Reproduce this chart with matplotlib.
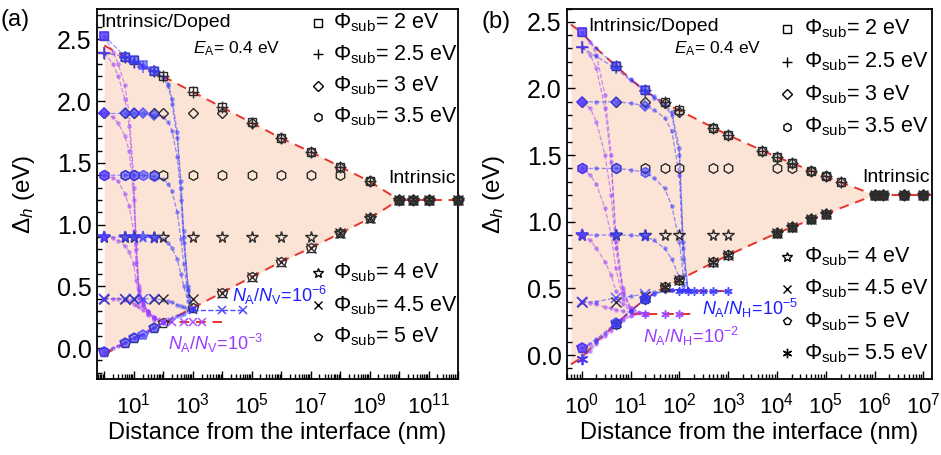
import numpy as np
import matplotlib
matplotlib.use('Agg')
import matplotlib.pyplot as plt
from matplotlib.colors import to_rgba
from matplotlib.ticker import LogLocator, FuncFormatter, MultipleLocator, NullFormatter

plt.rcParams['font.family'] = ['Liberation Sans', 'DejaVu Sans']
plt.rcParams['mathtext.fontset'] = 'custom'
plt.rcParams['mathtext.rm'] = 'Liberation Sans'
plt.rcParams['mathtext.it'] = 'Liberation Sans:italic'
plt.rcParams['mathtext.bf'] = 'Liberation Sans:bold'

nan = np.nan

# substrate work functions and their markers (rows of every table below follow this order)
phi_vals = ['2', '2.5', '3', '3.5', '4', '4.5', '5', '5.5']
mk = ['s', '+', 'D', 'h', '*', 'x', 'p', (6, 2, 0)]
msz = [6, 8, 5.5, 7, 8.5, 7, 7, 8]

RED = '#e8322c'
BLUE = '#3b3bff'
PURP = '#a040ff'
FILL = '#fbe4d5'

# ---------------- panel (a) ----------------
bx_a = [1, 1e1, 1e2, 1e3, 1e4, 1e5, 1e6, 1e7, 1e8, 1e9, 1e10]
upper_a = [2.45, 2.325, 2.2, 2.075, 1.95, 1.825, 1.70, 1.59, 1.47, 1.35, 1.2]
lower_a = [-0.05, 0.075, 0.2, 0.325, 0.45, 0.575, 0.70, 0.81, 0.93, 1.05, 1.2]
tail_a = [1e10, 1e12]

grid_a = [1, 5, 10, 50, 100, 1e3, 1e4, 1e5, 1e6, 1e7, 1e8, 1e9, 1e10, 3e10, 1e11, 1e12]
undoped_a = [
    [2.53, 2.36, 2.33, 2.24, 2.20, 2.08, 1.95, 1.83, 1.70, 1.59, 1.47, 1.35, 1.2, 1.2, 1.2, 1.2],
    [2.39, 2.36, 2.32, 2.24, 2.20, 2.07, 1.95, 1.82, 1.70, 1.59, 1.47, 1.35, 1.2, 1.2, 1.2, 1.2],
    [1.90, 1.90, 1.90, 1.90, 1.90, 1.90, 1.90, 1.82, 1.70, 1.59, 1.47, 1.35, 1.2, 1.2, 1.2, 1.2],
    [1.40, 1.40, 1.40, 1.40, 1.40, 1.40, 1.40, 1.40, 1.40, 1.40, 1.40, 1.35, 1.2, 1.2, 1.2, 1.2],
    [0.90, 0.90, 0.90, 0.90, 0.90, 0.90, 0.90, 0.90, 0.90, 0.90, 0.93, 1.05, 1.2, 1.2, 1.2, 1.2],
    [0.40, 0.40, 0.40, 0.40, 0.40, 0.40, 0.45, 0.575, 0.70, 0.81, 0.93, 1.05, 1.2, 1.2, 1.2, 1.2],
    [-0.03, 0.04, 0.08, 0.16, 0.20, 0.325, 0.45, 0.575, 0.70, 0.81, 0.93, 1.05, 1.2, 1.2, 1.2, 1.2],
]

# N_A/N_V = 1e-3 (purple)
pur_x_a = [1, 2, 3, 5, 7, 10, 12, 15, 20, 30, 50, 100]
pur_a = [
    [2.53, 2.40, 2.30, 2.13, 1.90, 1.40, 0.90, 0.50, 0.38, 0.30, 0.25, 0.21],
    [2.39, 2.30, 2.20, 2.02, 1.80, 1.30, 0.85, 0.48, 0.37, 0.30, 0.25, 0.21],
    [1.90, 1.87, 1.82, 1.72, 1.60, 1.20, 0.80, 0.46, 0.36, 0.29, 0.24, 0.21],
    [1.40, 1.38, 1.35, 1.25, 1.15, 0.95, 0.70, 0.43, 0.35, 0.29, 0.24, 0.21],
    [0.90, 0.89, 0.87, 0.83, 0.78, 0.68, 0.55, 0.40, 0.34, 0.28, 0.24, 0.21],
    [0.40, 0.40, 0.40, 0.39, 0.38, 0.36, 0.35, 0.33, 0.31, 0.27, 0.23, 0.21],
    [-0.03, 0.00, 0.02, 0.05, 0.07, 0.08, 0.09, 0.10, 0.11, 0.14, 0.17, 0.21],
]
# N_A/N_V = 1e-6 (blue)
blue_x_a = [1, 5, 10, 20, 50, 100, 150, 200, 300, 400, 500, 700, 1000]
blue_a = [
    [2.53, 2.36, 2.33, 2.29, 2.24, 2.20, 2.14, 2.02, 1.75, 1.35, 0.95, 0.50, 0.32],
    [2.39, 2.36, 2.32, 2.28, 2.24, 2.19, 2.12, 1.98, 1.70, 1.30, 0.90, 0.48, 0.32],
    [1.90, 1.90, 1.90, 1.90, 1.89, 1.87, 1.83, 1.76, 1.55, 1.20, 0.85, 0.46, 0.32],
    [1.40, 1.40, 1.40, 1.40, 1.39, 1.37, 1.33, 1.27, 1.10, 0.88, 0.68, 0.42, 0.32],
    [0.90, 0.90, 0.90, 0.90, 0.89, 0.88, 0.85, 0.81, 0.72, 0.60, 0.50, 0.38, 0.32],
    [0.40, 0.40, 0.40, 0.40, 0.40, 0.39, 0.38, 0.37, 0.35, 0.34, 0.33, 0.32, 0.32],
    [-0.03, 0.04, 0.08, 0.11, 0.16, 0.20, 0.22, 0.24, 0.26, 0.27, 0.28, 0.30, 0.32],
]
big_blue_a = [0, 1, 2, 3, 4]
pur_plat_x_a = [100, 200, 500, 1000, 2000]
pur_plat_a = [0.21, 0.21, 0.21, 0.21, 0.21]
blue_plat_x_a = [1000, 1e4, 5e4]
blue_plat_a = [0.31, 0.31, 0.31]
red_plat_a = [([100, 1e4], [0.21, 0.21])]

# ---------------- panel (b) ----------------
bx_b = [0.6, 1, 2, 5, 10, 20, 50, 100, 1e3, 1e4, 1e5, 1e6]
upper_b = [2.48, 2.42, 2.30, 2.17, 2.07, 1.98, 1.89, 1.835, 1.65, 1.485, 1.34, 1.2]
lower_b = [-0.07, -0.02, 0.10, 0.23, 0.33, 0.42, 0.51, 0.565, 0.75, 0.915, 1.06, 1.2]
tail_b = [1e6, 1.5e7]

grid_b = [1, 5, 20, 50, 100, 500, 1e3, 5e3, 1e4, 2e4, 5e4, 1e5, 2e5, 1e6, 1.5e6, 4e6, 1e7]
undoped_b = [
    [2.42, 2.17, 1.99, 1.90, 1.84, 1.70, 1.65, 1.53, 1.485, 1.44, 1.38, 1.34, 1.30, 1.2, 1.2, 1.2, 1.2],
    [2.31, 2.17, 1.99, 1.90, 1.84, 1.70, 1.65, 1.53, 1.485, 1.44, 1.38, 1.34, 1.30, 1.2, 1.2, 1.2, 1.2],
    [1.90, 1.90, 1.90, 1.89, 1.82, 1.70, 1.65, 1.53, 1.485, 1.44, 1.38, 1.34, 1.30, 1.2, 1.2, 1.2, 1.2],
    [1.40, 1.40, 1.40, 1.40, 1.40, 1.40, 1.40, nan, 1.40, 1.40, 1.38, 1.34, nan, 1.2, 1.2, 1.2, 1.2],
    [0.90, 0.90, 0.90, 0.90, 0.90, 0.90, 0.90, nan, 0.915, 0.96, 1.02, 1.06, nan, 1.2, 1.2, 1.2, 1.2],
    [0.40, 0.40, 0.44, 0.51, 0.565, 0.70, 0.75, nan, 0.915, 0.96, 1.02, 1.06, nan, 1.2, 1.2, 1.2, 1.2],
    [0.05, 0.23, 0.42, 0.51, 0.565, 0.70, 0.75, nan, 0.915, 0.96, 1.02, 1.06, nan, 1.2, 1.2, 1.2, 1.2],
    [-0.03, 0.23, 0.42, 0.51, 0.565, 0.70, 0.75, nan, 0.915, 0.96, 1.02, 1.06, nan, 1.2, 1.2, 1.2, 1.2],
]

# N_A/N_H = 1e-2 (purple)
pur_x_b = [1, 1.5, 2, 3, 4, 5, 7, 10, 20]
pur_b = [
    [2.42, 2.35, 2.25, 1.95, 1.50, 0.90, 0.50, 0.35, 0.31],
    [2.31, 2.25, 2.15, 1.85, 1.45, 0.85, 0.48, 0.35, 0.31],
    [1.90, 1.85, 1.75, 1.50, 1.20, 0.80, 0.46, 0.34, 0.31],
    [1.40, 1.35, 1.28, 1.10, 0.90, 0.65, 0.42, 0.33, 0.31],
    [0.90, 0.86, 0.80, 0.70, 0.60, 0.48, 0.38, 0.33, 0.31],
    [0.40, 0.39, 0.38, 0.36, 0.35, 0.34, 0.33, 0.32, 0.31],
    [0.05, 0.08, 0.11, 0.16, 0.20, 0.23, 0.27, 0.30, 0.31],
    [-0.03, 0.03, 0.08, 0.14, 0.18, 0.22, 0.26, 0.29, 0.31],
]
# N_A/N_H = 1e-5 (blue)
blue_x_b = [1, 2, 5, 10, 20, 30, 50, 70, 100, 120, 150]
blue_b = [
    [2.42, 2.30, 2.17, 2.07, 1.99, 1.94, 1.88, 1.82, 1.55, 0.85, 0.49],
    [2.31, 2.24, 2.15, 2.06, 1.98, 1.93, 1.87, 1.80, 1.50, 0.80, 0.49],
    [1.90, 1.90, 1.90, 1.89, 1.87, 1.84, 1.78, 1.68, 1.35, 0.72, 0.49],
    [1.40, 1.40, 1.40, 1.39, 1.37, 1.33, 1.25, 1.12, 0.85, 0.60, 0.49],
    [0.90, 0.90, 0.90, 0.90, 0.89, 0.86, 0.80, 0.72, 0.58, 0.52, 0.49],
    [0.40, 0.40, 0.43, 0.44, 0.46, 0.47, 0.48, 0.49, 0.49, 0.49, 0.49],
    [0.05, 0.12, 0.24, 0.33, 0.42, 0.46, 0.48, 0.49, 0.49, 0.49, 0.49],
    [-0.03, 0.10, 0.23, 0.33, 0.42, 0.46, 0.48, 0.49, 0.49, 0.49, 0.49],
]
big_blue_b = [0, 2, 4]
pur_plat_x_b = [20, 50, 100]
pur_plat_b = [0.31, 0.31, 0.31]
blue_plat_x_b = [100, 150, 200, 300, 500, 1000]
blue_plat_b = [0.48, 0.48, 0.48, 0.48, 0.48, 0.48]
red_plat_b = [([10, 180], [0.31, 0.31]), ([50, 1000], [0.48, 0.48])]


def draw_panel(ax, bx, up, lo, tail, grid, undoped, pur_x, pur, blue_x, blue, big_blue,
               ppx, ppy, bpx, bpy, red_plat, plat_mk):
    ax.fill_between(bx, lo, up, color=FILL, lw=0, zorder=0)
    dash = (0, (5, 3.5))
    ax.plot(bx, up, color=RED, ls=dash, lw=1.4, zorder=2)
    ax.plot(bx, lo, color=RED, ls=dash, lw=1.4, zorder=2)
    ax.plot(tail, [1.2, 1.2], color=RED, ls=dash, lw=1.4, zorder=2)
    for rx, ry in red_plat:
        ax.plot(rx, ry, color=RED, ls=dash, lw=1.4, zorder=2)

    n = len(undoped)
    for i in range(n):
        for xs, ys, col, bigs in ((pur_x, pur[i], PURP, [0]), (blue_x, blue[i], BLUE, big_blue)):
            ax.plot(xs, ys, ls='--', lw=0.9, color=col, alpha=0.55, marker='o', ms=3.2,
                    mec='none', mfc=col, zorder=3)
            bx_big = [xs[j] for j in bigs]
            by_big = [ys[j] for j in bigs]
            ax.plot(bx_big, by_big, ls='none', marker=mk[i], ms=msz[i],
                    mfc=to_rgba(col, 0.5), mec=to_rgba(col, 0.75), mew=1.1, zorder=5)
        ax.plot(grid, undoped[i], ls='none', marker=mk[i], ms=msz[i], mfc='none',
                mec='#2b2b2b', mew=1.0, zorder=4, clip_on=False)

    ax.plot(bpx, bpy, ls='--', lw=1.0, color=BLUE, marker=plat_mk, ms=6, mew=1.1,
            mfc=to_rgba(BLUE, 0.6), mec=BLUE, alpha=0.9, zorder=4)
    ax.plot(ppx, ppy, ls='none', color=PURP, marker=plat_mk, ms=6, mew=1.1,
            mfc=to_rgba(PURP, 0.6), mec=PURP, alpha=0.9, zorder=4)

    ax.set_xscale('log')
    ax.tick_params(which='both', direction='in', top=False, right=False, width=1.0)
    ax.tick_params(which='major', length=6)
    ax.tick_params(which='minor', length=3.5)
    ax.tick_params(axis='x', which='major', labelsize=16, pad=10)
    ax.tick_params(axis='y', which='major', labelsize=18, pad=4)
    ax.yaxis.set_major_locator(MultipleLocator(0.5))
    ax.yaxis.set_minor_locator(MultipleLocator(0.1))
    ax.yaxis.set_major_formatter(FuncFormatter(lambda v, p: '%.1f' % v))
    ax.xaxis.set_major_locator(LogLocator(base=10.0, numticks=100))
    ax.xaxis.set_minor_locator(LogLocator(base=10.0, subs=np.arange(2, 10), numticks=100))
    ax.xaxis.set_minor_formatter(NullFormatter())
    for s in ax.spines.values():
        s.set_linewidth(1.3)
    ax.set_xlabel('Distance from the interface (nm)', fontsize=17, labelpad=2)
    ax.set_ylabel(r'$\mathit{\Delta}_h$ (eV)', fontsize=17.5, labelpad=14)


def legend_rows(ax, idx, ys, xm, xt):
    for i, y in zip(idx, ys):
        ax.plot([xm], [y], transform=ax.transAxes, ls='none', marker=mk[i], ms=msz[i] * 0.85,
                mfc='none', mec='k', mew=1.0, clip_on=False, zorder=6)
        ax.text(xt, y, r'$\Phi_{\rm sub}$= %s eV' % phi_vals[i], transform=ax.transAxes,
                fontsize=15.5, ha='left', va='center', zorder=6)


fig = plt.figure(figsize=(9.41, 4.55), dpi=100)
ax_a = fig.add_axes([0.1031, 0.167, 0.3836, 0.8143])
ax_b = fig.add_axes([0.6026, 0.167, 0.3879, 0.8143])

draw_panel(ax_a, bx_a, upper_a, lower_a, tail_a, grid_a, undoped_a, pur_x_a, pur_a,
           blue_x_a, blue_a, big_blue_a, pur_plat_x_a, pur_plat_a, blue_plat_x_a,
           blue_plat_a, red_plat_a, 'x')
draw_panel(ax_b, bx_b, upper_b, lower_b, tail_b, grid_b, undoped_b, pur_x_b, pur_b,
           blue_x_b, blue_b, big_blue_b, pur_plat_x_b, pur_plat_b, blue_plat_x_b,
           blue_plat_b, red_plat_b, (6, 2, 0))

ax_a.set_xlim(0.57, 1e12)
ax_a.set_ylim(-0.25, 2.75)
ax_a.xaxis.set_major_formatter(FuncFormatter(
    lambda v, p: r'$10^{%d}$' % round(np.log10(v)) if round(np.log10(v)) % 2 == 1 else ''))
ax_b.set_xlim(0.5, 1.5e7)
ax_b.set_ylim(-0.18, 2.6)
ax_b.xaxis.set_major_formatter(FuncFormatter(lambda v, p: r'$10^{%d}$' % round(np.log10(v))))

# annotations panel (a)
ax_a.text(0.008, 0.962, 'Intrinsic/Doped', transform=ax_a.transAxes, fontsize=14, va='center')
ax_a.text(0.266, 0.892, r'$E_{\rm A}$= 0.4 eV', transform=ax_a.transAxes, fontsize=12.5, va='center')
ax_a.text(0.995, 0.542, 'Intrinsic', transform=ax_a.transAxes, fontsize=14, ha='right', va='center')
ax_a.text(2.2e4, 0.43, r'$N_{\rm A}/N_{\rm V}$=10$^{-6}$', color='#1f1fff', fontsize=13, va='center')
ax_a.text(150, 0.04, r'$N_{\rm A}/N_{\rm V}$=10$^{-3}$', color='#9a3cff', fontsize=13, va='center')
legend_rows(ax_a, [0, 1, 2, 3], [0.961, 0.876, 0.792, 0.707], 0.612, 0.655)
legend_rows(ax_a, [4, 5, 6], [0.286, 0.199, 0.113], 0.612, 0.655)

# annotations panel (b)
ax_b.text(0.058, 0.951, 'Intrinsic/Doped', transform=ax_b.transAxes, fontsize=14, va='center')
ax_b.text(0.293, 0.892, r'$E_{\rm A}$= 0.4 eV', transform=ax_b.transAxes, fontsize=12.5, va='center')
ax_b.text(0.995, 0.544, 'Intrinsic', transform=ax_b.transAxes, fontsize=14, ha='right', va='center')
ax_b.text(290, 0.35, r'$N_{\rm A}/N_{\rm H}$=10$^{-5}$', color='#1f1fff', fontsize=13, va='center')
ax_b.text(18, 0.14, r'$N_{\rm A}/N_{\rm H}$=10$^{-2}$', color='#9a3cff', fontsize=13, va='center')
legend_rows(ax_b, [0, 1, 2, 3], [0.945, 0.856, 0.768, 0.680], 0.602, 0.648)
legend_rows(ax_b, [4, 5, 6, 7], [0.330, 0.243, 0.156, 0.069], 0.602, 0.648)

fig.text(0.0, 0.955, '(a)', fontsize=17, va='center')
fig.text(0.512, 0.952, '(b)', fontsize=17, va='center')

fig.savefig('out.png', dpi=100)
